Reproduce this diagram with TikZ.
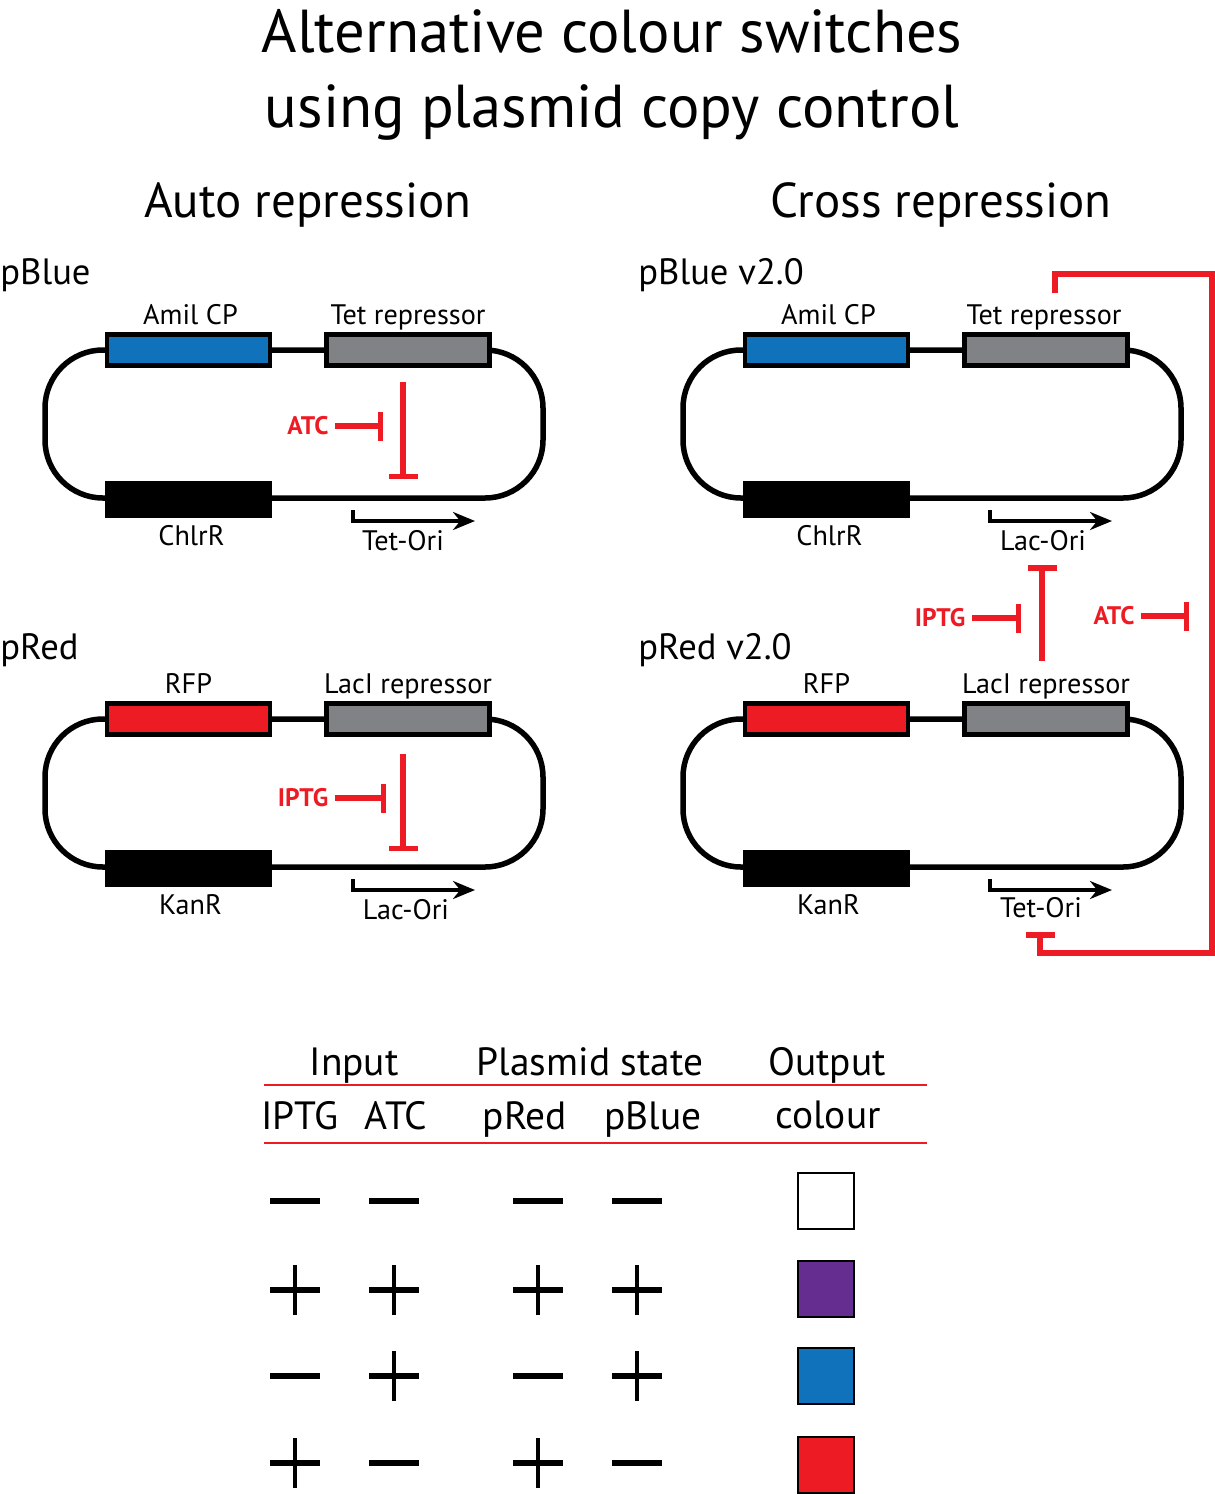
\documentclass[tikz,border=0pt]{standalone}
\usepackage{fontspec}
\setmainfont{PT Sans}
\usepackage{xcolor}
\usepackage{tikz}
\usetikzlibrary{arrows.meta}
\usetikzlibrary{positioning}
\definecolor{RepRed}{HTML}{ED1C24}
\definecolor{AmilBlue}{HTML}{1072BA}
\definecolor{GeneGrey}{HTML}{808285}
\definecolor{MixPurple}{HTML}{662D91}

\begin{document}
\begin{tikzpicture}
[
	x = 0.5pt, y = -0.5pt,
	Title/.style	= {font = \fontsize{30.3}{37.5}\selectfont, align = center},
	Heading/.style	= {font = \fontsize{24.5}{28}\selectfont},
	Plasmid/.style	= {font = \fontsize{18.3}{22}\selectfont, anchor = west, inner sep = 0cm},
	Gene/.style		= {font = \fontsize{14.1}{16}\selectfont, inner sep = 0cm, text height = 10pt, text depth = 3pt},
	Drug/.style		= {font = \fontsize{12.7}{14}\selectfont\bfseries, text = RepRed, inner sep = 3pt},
	Cell/.style		= {font = \fontsize{19.7}{23}\selectfont, inner sep = 0cm, text height = 14pt, text depth = 4pt},
	Loop/.style		= {draw, line width = 2.75pt, rounded corners = 29pt, minimum width = 249pt, minimum height = 74pt, inner sep = 0cm},
	Box/.style		= {draw, line width = 2.25pt, minimum width = 81.5pt, minimum height = 15.5pt, inner sep = 0cm},
	Marker/.style	= {fill = black, minimum width = 83.5pt, minimum height = 18.5pt, inner sep = 0cm},
	Inhibit/.style	= {draw = RepRed, line width = 2.75pt, -{Bar[width = 14.5pt]}},
	Promoter/.style	= {draw, line width = 1.75pt, -{Stealth[length = 11pt, width = 9pt]}},
	Rule/.style		= {draw = RepRed, line width = 1pt},
	Swatch/.style	= {draw, line width = 1pt, minimum width = 28pt, minimum height = 28pt, inner sep = 0cm},
	Minus/.style	= {minimum width = 25pt, minimum height = 25pt, inner sep = 0cm, path picture = {\draw [line width = 2.7pt] (path picture bounding box.west) -- (path picture bounding box.east);}},
	Plus/.style		= {minimum width = 25pt, minimum height = 25pt, inner sep = 0cm, path picture = {\draw [line width = 2.7pt] (path picture bounding box.west) -- (path picture bounding box.east); \draw [line width = 2.3pt] (path picture bounding box.north) -- (path picture bounding box.south);}},
]

	\useasboundingbox (0,0) rectangle (1215,1494);

	\node (title) [Title] at (612,75) {Alternative colour switches \\ using plasmid copy control};
	\node (hAuto) [Heading] at (308,205) {Auto repression};
	\node (hCross) [Heading] at (941,205) {Cross repression};

	% pBlue
	\node (nameA) [Plasmid] at (0,275) {pBlue};
	\node (loopA) [Loop] at (294,424) {};
	\node (amilA) [Box, fill = AmilBlue] at (188.5,350) {};
	\node (tetA) [Box, fill = GeneGrey] at (408,350) {};
	\node (chlrA) [Marker] at (188.5,499.5) {};
	\node (lAmilA) [Gene, above = 0.5pt of amilA, xshift = 1pt] {Amil CP};
	\node (lTetA) [Gene, above = 0.5pt of tetA] {Tet repressor};
	\node (lChlrA) [Gene, below = 3.5pt of chlrA, xshift = 1.5pt] {ChlrR};
	\node (lOriA) [Gene] at (403,543) {Tet-Ori};
	\node (atcA) [Drug] at (308,426) {ATC};
	%
	\node (auxA1) [coordinate] at (403,382) {};
	\node (auxA2) [coordinate] at (403,479) {};
	\node (auxA3) [coordinate] at (383,426) {};
	\node (auxA4) [coordinate] at (353,510) {};
	\node (auxA5) [coordinate] at (475,521) {};
	%
	\draw [Inhibit] (auxA1) -- (auxA2);
	\draw [Inhibit] (atcA) -- (auxA3);
	\draw [Promoter] (auxA4) |- (auxA5);

	% pRed
	\node (nameB) [Plasmid] at (0,650) {pRed};
	\node (loopB) [Loop] at (294,793) {};
	\node (rfpB) [Box, fill = RepRed] at (188.5,719) {};
	\node (lacB) [Box, fill = GeneGrey] at (408,719) {};
	\node (kanB) [Marker] at (188.5,868.5) {};
	\node (lRfpB) [Gene, above = 0.5pt of rfpB] {RFP};
	\node (lLacB) [Gene, above = 0.5pt of lacB] {LacI repressor};
	\node (lKanB) [Gene, below = 3.5pt of kanB, xshift = 1pt] {KanR};
	\node (lOriB) [Gene] at (406,912) {Lac-Ori};
	\node (iptgB) [Drug] at (303,798) {IPTG};
	%
	\node (auxB1) [coordinate] at (403,754) {};
	\node (auxB2) [coordinate] at (403,851) {};
	\node (auxB3) [coordinate] at (386,798) {};
	\node (auxB4) [coordinate] at (353,879) {};
	\node (auxB5) [coordinate] at (475,890) {};
	%
	\draw [Inhibit] (auxB1) -- (auxB2);
	\draw [Inhibit] (iptgB) -- (auxB3);
	\draw [Promoter] (auxB4) |- (auxB5);

	% pBlue v2.0
	\node (nameC) [Plasmid] at (638,275) {pBlue v2.0};
	\node (loopC) [Loop] at (932,424) {};
	\node (amilC) [Box, fill = AmilBlue] at (826.5,350) {};
	\node (tetC) [Box, fill = GeneGrey] at (1046,350) {};
	\node (chlrC) [Marker] at (826.5,499.5) {};
	\node (lAmilC) [Gene, above = 0.5pt of amilC, xshift = 1pt] {Amil CP};
	\node (lTetC) [Gene, above = 0.5pt of tetC, xshift = -1pt] {Tet repressor};
	\node (lChlrC) [Gene, below = 3.5pt of chlrC, xshift = 1.5pt] {ChlrR};
	\node (lOriC) [Gene] at (1043,543) {Lac-Ori};
	\node (auxC1) [coordinate] at (990,510) {};
	\node (auxC2) [coordinate] at (1112,521) {};
	\draw [Promoter] (auxC1) |- (auxC2);

	% pRed v2.0
	\node (nameD) [Plasmid] at (638,650) {pRed v2.0};
	\node (loopD) [Loop] at (932,793) {};
	\node (rfpD) [Box, fill = RepRed] at (826.5,719) {};
	\node (lacD) [Box, fill = GeneGrey] at (1046,719) {};
	\node (kanD) [Marker] at (826.5,868.5) {};
	\node (lRfpD) [Gene, above = 0.5pt of rfpD] {RFP};
	\node (lLacD) [Gene, above = 0.5pt of lacD] {LacI repressor};
	\node (lKanD) [Gene, below = 3.5pt of kanD, xshift = 1pt] {KanR};
	\node (lOriD) [Gene] at (1041,910) {Tet-Ori};
	\node (auxD1) [coordinate] at (990,879) {};
	\node (auxD2) [coordinate] at (1112,890) {};
	\draw [Promoter] (auxD1) |- (auxD2);

	% repression between the two plasmids
	\node (iptgD) [Drug] at (940,618) {IPTG};
	\node (atcD) [Drug] at (1114,616) {ATC};
	\node (auxE1) [coordinate] at (1042,661) {};
	\node (auxE2) [coordinate] at (1042,565) {};
	\node (auxE3) [coordinate] at (1021,618) {};
	\node (auxE4) [coordinate] at (1189,616) {};
	\node (auxF1) [coordinate] at (1055,293) {};
	\node (auxF2) [coordinate] at (1212,274) {};
	\node (auxF3) [coordinate] at (1040,953) {};
	\node (auxF4) [coordinate] at (1040,932) {};
	%
	\draw [Inhibit] (auxE1) -- (auxE2);
	\draw [Inhibit] (iptgD) -- (auxE3);
	\draw [Inhibit] (atcD) -- (auxE4);
	\draw [Inhibit] (auxF1) |- (auxF2) |- (auxF3) -- (auxF4);

	% table head
	\node (tInput) [Cell] at (354,1065) {Input};
	\node (tState) [Cell] at (590,1065) {Plasmid state};
	\node (tOutput) [Cell] at (827,1065) {Output};
	\node (tIptg) [Cell] at (300,1119) {IPTG};
	\node (tAtc) [Cell] at (396,1119) {ATC};
	\node (tRed) [Cell] at (525,1119) {pRed};
	\node (tBlue) [Cell] at (653,1119) {pBlue};
	\node (tColour) [Cell] at (828,1118) {colour};
	%
	\node (auxG1) [coordinate] at (264,1085) {};
	\node (auxG2) [coordinate] at (927,1085) {};
	\node (auxG3) [coordinate] at (264,1143) {};
	\node (auxG4) [coordinate] at (927,1143) {};
	\draw [Rule] (auxG1) -- (auxG2);
	\draw [Rule] (auxG3) -- (auxG4);

	% table rows
	\node (s11) [Minus] at (295,1201) {};
	\node (s12) [Minus] at (394,1201) {};
	\node (s13) [Minus] at (538,1201) {};
	\node (s14) [Minus] at (637,1201) {};
	\node (c1) [Swatch, fill = white] at (826,1200.5) {};
	%
	\node (s21) [Plus] at (295,1290) {};
	\node (s22) [Plus] at (394,1290) {};
	\node (s23) [Plus] at (538,1290) {};
	\node (s24) [Plus] at (637,1290) {};
	\node (c2) [Swatch, fill = MixPurple] at (826,1288.5) {};
	%
	\node (s31) [Minus] at (295,1376) {};
	\node (s32) [Plus] at (394,1376) {};
	\node (s33) [Minus] at (538,1376) {};
	\node (s34) [Plus] at (637,1376) {};
	\node (c3) [Swatch, fill = AmilBlue] at (826,1376) {};
	%
	\node (s41) [Plus] at (295,1463) {};
	\node (s42) [Minus] at (394,1463) {};
	\node (s43) [Plus] at (538,1463) {};
	\node (s44) [Minus] at (637,1463) {};
	\node (c4) [Swatch, fill = RepRed] at (826,1464.5) {};

\end{tikzpicture}
\end{document}
